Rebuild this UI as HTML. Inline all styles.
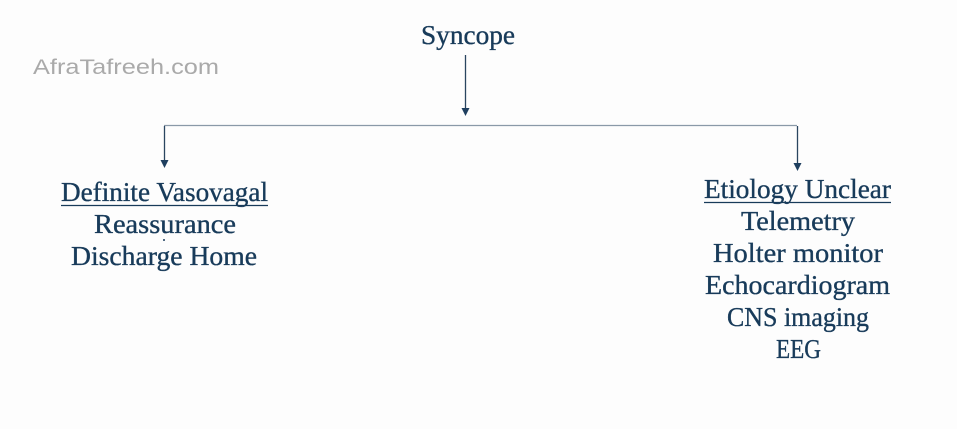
<!DOCTYPE html>
<html><head><meta charset="utf-8"><style>
html,body{margin:0;padding:0;background:#fdfdfd;}
svg{display:block}
text{font-family:"Liberation Serif",serif;fill:#183b5a;font-size:27px;stroke:#183b5a;stroke-width:0.35}
</style></head><body>
<svg width="957" height="429" viewBox="0 0 957 429" xmlns="http://www.w3.org/2000/svg">
<rect width="957" height="429" fill="#fdfdfd"/>
<text x="33" y="74" textLength="186" lengthAdjust="spacingAndGlyphs" style="font-family:'Liberation Sans',sans-serif;fill:#aaaaaa;stroke:none;font-size:21px">AfraTafreeh.com</text>
<text x="421" y="44" textLength="94" lengthAdjust="spacingAndGlyphs">Syncope</text>
<g stroke="#2a4560" stroke-width="1.3" fill="none">
<line x1="465.5" y1="55" x2="465.5" y2="110"/>
<line x1="164" y1="125.5" x2="797" y2="125.5" stroke="#8a99a8"/>
<line x1="164.5" y1="126" x2="164.5" y2="162"/>
<line x1="797.5" y1="126" x2="797.5" y2="165"/>
</g>
<g fill="#1f3f5f">
<polygon points="461.5,108 469.5,108 465.5,116"/>
<polygon points="160.5,160 168.5,160 164.5,168"/>
<polygon points="793.5,163 801.5,163 797.5,171"/>
</g>
<text x="61" y="201" textLength="207" lengthAdjust="spacingAndGlyphs">Definite Vasovagal</text>
<line x1="61" y1="205.5" x2="268" y2="205.5" stroke="#183b5a" stroke-width="1.3"/>
<text x="94" y="233" textLength="142" lengthAdjust="spacingAndGlyphs">Reassurance</text>
<text x="71" y="265" textLength="186" lengthAdjust="spacingAndGlyphs">Discharge Home</text>
<circle cx="164" cy="240" r="1" fill="#183b5a"/>
<text x="704" y="198" textLength="187" lengthAdjust="spacingAndGlyphs">Etiology Unclear</text>
<line x1="704" y1="202.5" x2="891" y2="202.5" stroke="#183b5a" stroke-width="1.3"/>
<text x="741" y="230" textLength="114" lengthAdjust="spacingAndGlyphs">Telemetry</text>
<text x="713" y="262" textLength="170" lengthAdjust="spacingAndGlyphs">Holter monitor</text>
<text x="705" y="294" textLength="185" lengthAdjust="spacingAndGlyphs">Echocardiogram</text>
<text x="727" y="326" textLength="142" lengthAdjust="spacingAndGlyphs">CNS imaging</text>
<text x="776" y="358" textLength="45" lengthAdjust="spacingAndGlyphs">EEG</text>
</svg>
</body></html>
